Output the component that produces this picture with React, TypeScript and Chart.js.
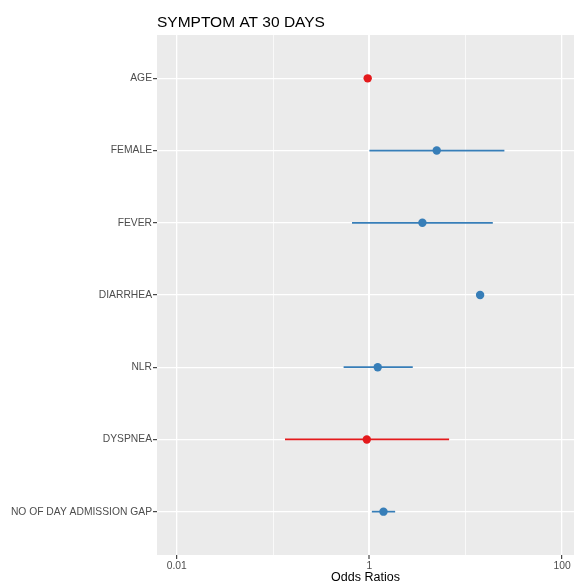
import React, { useEffect, useRef } from "react";
import { Chart, registerables } from "chart.js";

Chart.register(...registerables);

// ---- data ----
const chartTitle = "SYMPTOM AT 30 DAYS";
const xAxisTitle = "Odds Ratios";
const categories = [
  "AGE",
  "FEMALE",
  "FEVER",
  "DIARRHEA",
  "NLR",
  "DYSPNEA",
  "NO OF DAY ADMISSION GAP",
];
const oddsRatios = [0.96, 5.0, 3.55, 14.1, 1.22, 0.94, 1.4];
const ciLow: (number | null)[] = [null, 1.0, 0.66, null, 0.54, 0.133, 1.06];
const ciHigh: (number | null)[] = [null, 25.2, 19.1, null, 2.82, 6.72, 1.85];
const effectGroup = ["down", "up", "up", "up", "up", "down", "up"];
const xMajorTicks = [0.01, 1, 100];
const xMinorTicks = [0.1, 10];
const xRange = [0.00624, 133];

const groupColors: Record<string, string> = { down: "#E41A1C", up: "#377EB8" };
const FONT = "'Liberation Sans', Arial, Helvetica, sans-serif";

export default function App() {
  const canvasRef = useRef<HTMLCanvasElement | null>(null);

  useEffect(() => {
    const canvas = canvasRef.current;
    if (!canvas) return;

    const ciDatasets: any[] = [];
    categories.forEach((_, i) => {
      const lo = ciLow[i];
      const hi = ciHigh[i];
      if (lo == null || hi == null) return;
      ciDatasets.push({
        type: "line",
        data: [
          { x: lo, y: i },
          { x: hi, y: i },
        ],
        borderColor: groupColors[effectGroup[i]],
        borderWidth: 1.7,
        pointRadius: 0,
        pointHoverRadius: 0,
        fill: false,
        tension: 0,
      });
    });

    const pointDataset = {
      type: "scatter",
      data: oddsRatios.map((v, i) => ({ x: v, y: i })),
      pointBackgroundColor: effectGroup.map((g) => groupColors[g]),
      pointBorderWidth: 0,
      pointRadius: 4.2,
      pointHoverRadius: 4.2,
      showLine: false,
    };

    const panelPlugin = {
      id: "panelBg",
      beforeDraw(chart: any) {
        const { ctx, chartArea, width, height } = chart;
        ctx.save();
        ctx.fillStyle = "#FFFFFF";
        ctx.fillRect(0, 0, width, height);
        ctx.fillStyle = "#EBEBEB";
        ctx.fillRect(
          chartArea.left,
          chartArea.top,
          chartArea.right - chartArea.left,
          chartArea.bottom - chartArea.top
        );
        ctx.restore();
      },
      afterDraw(chart: any) {
        const { ctx, chartArea } = chart;
        ctx.save();
        ctx.fillStyle = "#000000";
        ctx.font = `15.5px ${FONT}`;
        ctx.textAlign = "left";
        ctx.textBaseline = "alphabetic";
        ctx.fillText(chartTitle, chartArea.left, 27);
        ctx.restore();
      },
    };

    const allXTicks = [...xMajorTicks, ...xMinorTicks].sort((a, b) => a - b);

    const chart = new Chart(canvas, {
      type: "scatter",
      data: { datasets: [pointDataset, ...ciDatasets] as any },
      plugins: [panelPlugin],
      options: {
        animation: false,
        responsive: false,
        devicePixelRatio: 1,
        events: [],
        layout: {
          autoPadding: false,
          padding: { top: 35, left: 0, right: 0, bottom: 0 },
        },
        plugins: {
          legend: { display: false },
          tooltip: { enabled: false },
          title: { display: false },
        },
        scales: {
          x: {
            type: "logarithmic",
            position: "bottom",
            min: xRange[0],
            max: xRange[1],
            afterBuildTicks(scale: any) {
              scale.ticks = allXTicks.map((v) => ({ value: v }));
            },
            afterFit(scale: any) {
              scale.height = 30;
              scale.paddingLeft = 0;
              scale.paddingRight = 0;
            },
            border: { display: false },
            grid: {
              color: "#FFFFFF",
              lineWidth: (ctx: any) => {
                const v = ctx.tick ? ctx.tick.value : 0;
                if (v === 1) return 2;
                return xMajorTicks.includes(v) ? 1.3 : 0.7;
              },
              drawTicks: true,
              tickLength: 4,
              tickWidth: 1.1,
              tickColor: (ctx: any) => {
                const v = ctx.tick ? ctx.tick.value : 0;
                return xMajorTicks.includes(v) ? "#333333" : "rgba(0,0,0,0)";
              },
            },
            ticks: {
              autoSkip: false,
              maxRotation: 0,
              minRotation: 0,
              padding: 1,
              color: "#4D4D4D",
              font: { family: FONT, size: 10.3 },
              callback: (value: any) =>
                xMajorTicks.includes(Number(value)) ? String(value) : "",
            },
            title: {
              display: true,
              text: xAxisTitle,
              color: "#000000",
              font: { family: FONT, size: 12.5 },
              padding: { top: 0, bottom: 0 },
            },
          },
          y: {
            type: "linear",
            position: "left",
            reverse: true,
            min: -0.6,
            max: categories.length - 1 + 0.6,
            afterBuildTicks(scale: any) {
              scale.ticks = categories.map((_, i) => ({ value: i }));
            },
            afterFit(scale: any) {
              scale.width = 157;
              scale.paddingTop = 0;
              scale.paddingBottom = 0;
            },
            border: { display: false },
            grid: {
              color: "#FFFFFF",
              lineWidth: 1.3,
              drawTicks: true,
              tickLength: 4,
              tickWidth: 1.1,
              tickColor: "#333333",
            },
            ticks: {
              autoSkip: false,
              padding: 1,
              color: "#4D4D4D",
              font: { family: FONT, size: 10.3 },
              callback: (value: any) => categories[Number(value)] ?? "",
            },
          },
        },
      } as any,
    });

    return () => {
      chart.destroy();
    };
  }, []);

  return (
    <div
      style={{
        position: "fixed",
        left: 0,
        top: 0,
        width: 574,
        height: 585,
        background: "#FFFFFF",
      }}
    >
      <canvas ref={canvasRef} width={574} height={585} />
    </div>
  );
}
